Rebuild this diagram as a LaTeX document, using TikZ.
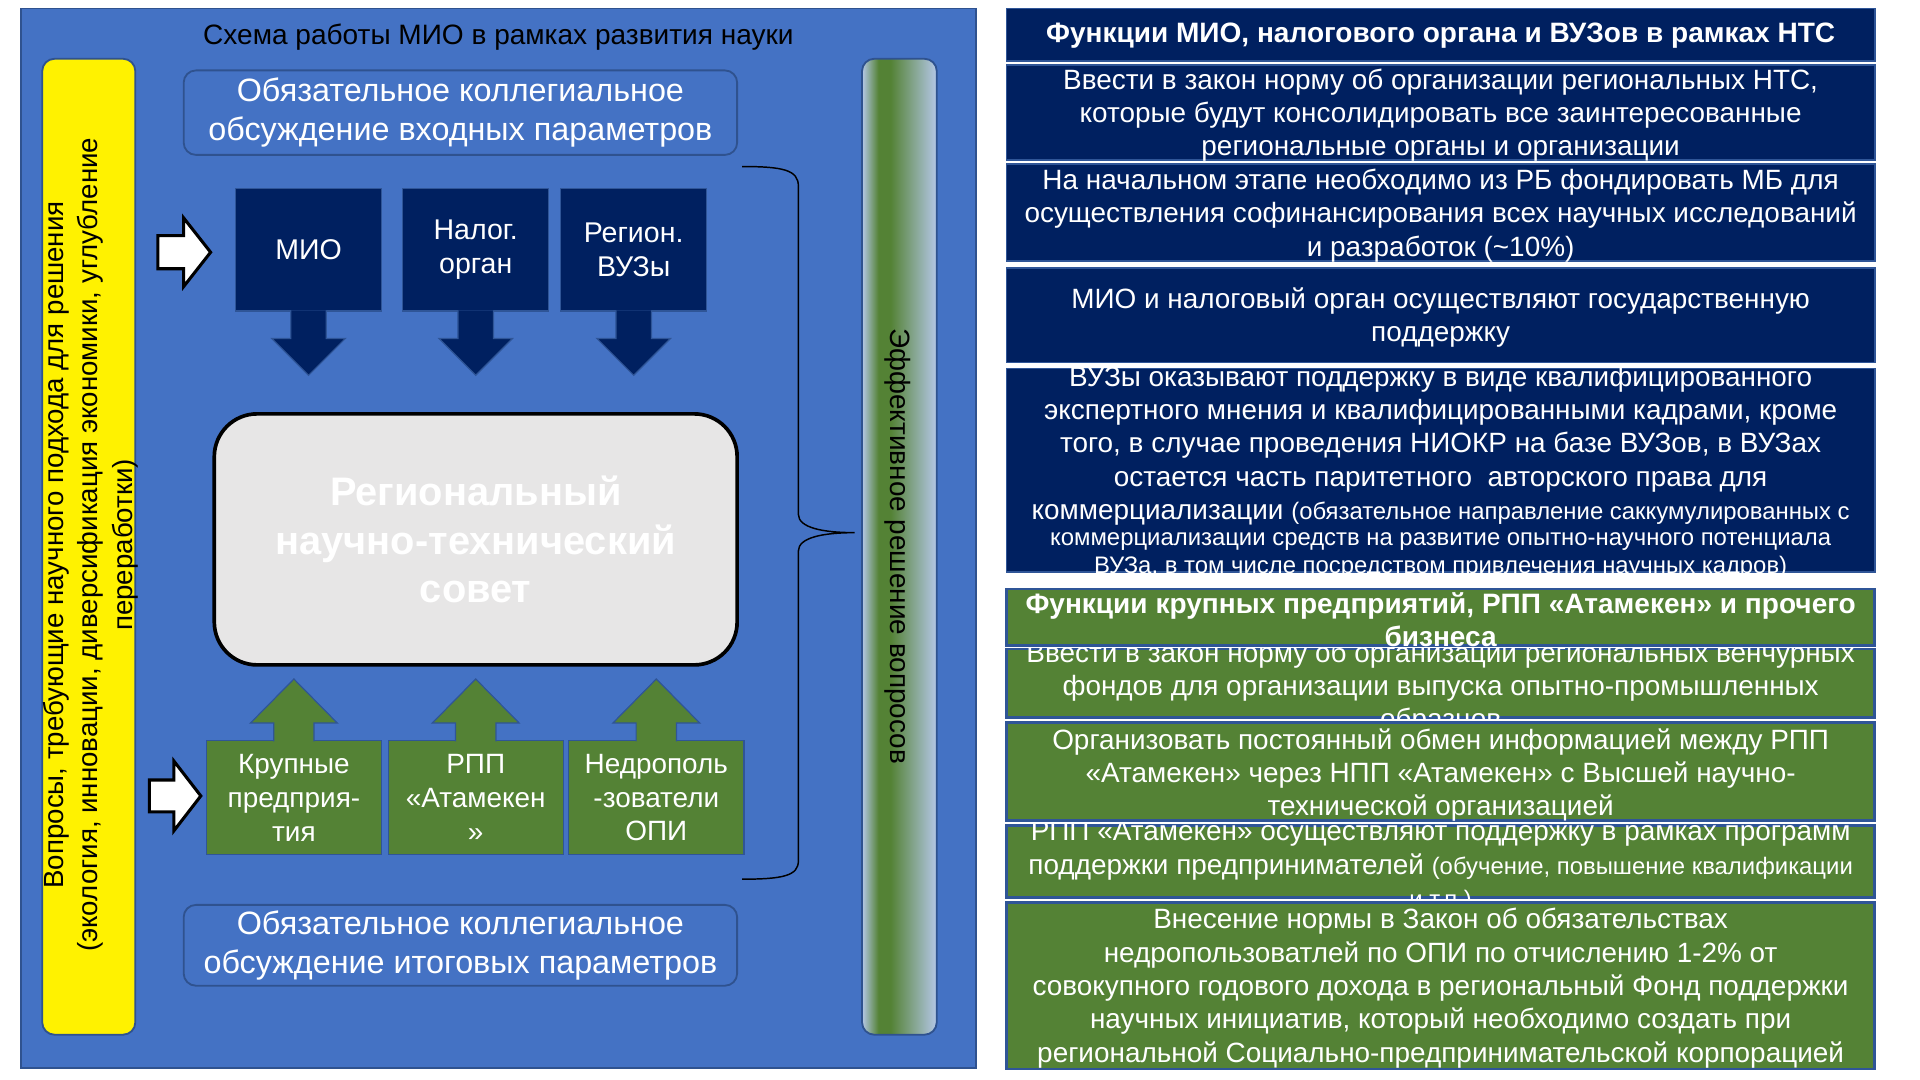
\documentclass[tikz,border=0pt]{standalone}
\usepackage{fontspec}
\setmainfont{Liberation Sans}
\usetikzlibrary{calc}

\definecolor{panelblue}{HTML}{4472C4}
\definecolor{edgeblue}{HTML}{2F528F}
\definecolor{navy}{HTML}{002060}
\definecolor{rowedge}{HTML}{2F5597}
\definecolor{leafgreen}{HTML}{548235}
\definecolor{councilgrey}{HTML}{E7E6E6}
\definecolor{barblue}{HTML}{B4C7E7}

\pgfdeclarehorizontalshading{barshade}{100bp}{color(0bp)=(barblue); color(25bp)=(barblue); color(36bp)=(leafgreen); color(44bp)=(leafgreen); color(75bp)=(barblue); color(100bp)=(barblue)}

\newcommand{\fsz}[2]{\fontsize{#1}{#2}\selectfont}

\tikzset{
  rowbox/.style={draw=rowedge, line width=1.5pt, minimum width=709pt, inner sep=0pt},
  navyrow/.style={rowbox, fill=navy},
  greenrow/.style={rowbox, fill=leafgreen, line width=2.2pt},
  rowtext/.style={text=white, align=center, inner sep=0pt, font=\fsz{22.8}{27.3}},
  actorbox/.style={draw=rowedge, line width=1pt, fill=navy, text=white, minimum width=119pt, minimum height=100pt, inner sep=0pt, align=center, font=\fsz{23.3}{28}},
  bizbox/.style={draw=rowedge, line width=1pt, fill=leafgreen, text=white, minimum width=143pt, minimum height=93pt, inner sep=0pt, align=center, font=\fsz{22.8}{27.5}},
  meetbox/.style={draw=edgeblue, line width=1.5pt, fill=panelblue, rounded corners=10pt, text=white, minimum width=452pt, inner sep=0pt, align=center, font=\fsz{26.4}{32}},
  whitearrow/.style={draw=black, line width=2.5pt, fill=white, line join=miter},
  downarrow/.style={draw=rowedge, line width=1pt, fill=navy},
  uparrow/.style={draw=rowedge, line width=1pt, fill=leafgreen}
}

\begin{document}
\begin{tikzpicture}[x=1pt,y=-1pt]

\useasboundingbox (0,0) rectangle (1568,882);
\fill[white] (0,0) rectangle (1568,882);

% Left panel
\draw[edgeblue, line width=1.5pt, fill=panelblue] (17,7) rectangle (797,872);
\node[font=\fsz{22.9}{26}] (title) at (407,30) {Схема работы МИО в рамках развития науки};

% Yellow bar with questions
\node[draw=edgeblue, line width=1.5pt, fill=yellow, rounded corners=10pt, minimum width=76pt, minimum height=797pt] (issuebar) at (72.5,446.5) {};
\node[rotate=90, align=center, font=\fsz{22.6}{28}] (issuetext) at (74,445) {Вопросы, требующие научного подхода для решения\\(экология, инновации, диверсификация экономики, углубление\\переработки)};

% Solution bar
\node[draw=edgeblue, line width=1.5pt, shading=barshade, rounded corners=10pt, minimum width=61pt, minimum height=797pt] (solbar) at (734.5,446.5) {};
\node[rotate=-90, font=\fsz{22.8}{25}] (soltext) at (733,446) {Эффективное решение вопросов};

% Discussion boxes
\node[meetbox, minimum height=69pt] (inmeet) at (376,92) {Обязательное коллегиальное\\обсуждение входных параметров};
\node[meetbox, minimum height=66pt] (outmeet) at (376,772) {Обязательное коллегиальное\\обсуждение итоговых параметров};

% State actors
\node[actorbox] (mio) at (252,204) {МИО};
\node[actorbox] (tax) at (388.5,204) {Налог.\\орган};
\node[actorbox] (uni) at (517.5,204) {Регион.\\ВУЗы};
\foreach \n in {mio,tax,uni}{
  \filldraw[downarrow] ($(\n.south)+(-14.5,-1)$) -- ++(0,23) -- ++(-15.5,0) -- ($(\n.south)+(0,52)$) -- ($(\n.south)+(30,22)$) -- ++(-15.5,0) -- ($(\n.south)+(14.5,-1)$);
}

% Council
\node[draw=black, line width=3pt, fill=councilgrey, rounded corners=35pt, minimum width=427pt, minimum height=205pt, text=white, align=center, font=\bfseries\fsz{32.5}{40}] (council) at (388.5,440.5) {Региональный\\научно-технический\\совет};

% Business actors
\node[bizbox] (bigco) at (240,651.5) {Крупные\\предприя-\\тия};
\node[bizbox] (rpp) at (388.5,651.5) {РПП\\«Атамекен\\»};
\node[bizbox] (miner) at (536,651.5) {Недрополь\\-зователи\\ОПИ};
\foreach \n in {bigco,rpp,miner}{
  \filldraw[uparrow] ($(\n.north)+(-16.5,1)$) -- ++(0,-15) -- ++(-19,0) -- ($(\n.north)+(0,-50)$) -- ($(\n.north)+(35.5,-14)$) -- ++(-19,0) -- ($(\n.north)+(16.5,1)$);
}

% Input arrows
\coordinate (inA) at (129,206);
\coordinate (inB) at (122,650);
\draw[whitearrow] (inA) ++(0,-13.5) -- ++(21,0) -- ++(0,-14.5) -- ++(22,28) -- ++(-22,28) -- ++(0,-14.5) -- ++(-21,0) -- cycle;
\draw[whitearrow] (inB) ++(0,-13) -- ++(20,0) -- ++(0,-15.5) -- ++(22,28.5) -- ++(-22,28.5) -- ++(0,-15.5) -- ++(-20,0) -- cycle;

% Brace
\draw[line width=1.2pt] (606,136) .. controls (640,136) and (652,139) .. (652,152) -- (652,420) .. controls (652,431) and (672,435) .. (698,435) .. controls (672,435) and (652,439) .. (652,450) -- (652,703) .. controls (652,715) and (640,718) .. (606,718);

% Right column: state functions
\node[navyrow, minimum height=43pt] (r1) at (1176.5,28.5) {};
\node[rowtext, font=\bfseries\fsz{22.9}{27}] (r1t) at (1176.5,29) {Функции МИО, налогового органа и ВУЗов в рамках НТС};
\node[navyrow, minimum height=78pt] (r2) at (1176.5,92) {};
\node[rowtext] (r2t) at (1176.5,94) {Ввести в закон норму об организации региональных НТС,\\которые будут консолидировать все заинтересованные\\региональные органы и организации};
\node[navyrow, minimum height=79pt] (r3) at (1176.5,173.5) {};
\node[rowtext] (r3t) at (1176.5,176) {На начальном этапе необходимо из РБ фондировать МБ для\\осуществления софинансирования всех научных исследований\\и разработок (\textasciitilde10\%)};
\node[navyrow, minimum height=77pt] (r4) at (1176.5,257.5) {};
\node[rowtext] (r4t) at (1176.5,259.5) {МИО и налоговый орган осуществляют государственную\\поддержку};
\node[navyrow, minimum height=166pt] (r5) at (1176.5,384) {};
\begin{scope}
  \clip (r5.north west) rectangle (r5.south east);
  \node[rowtext] (r5t) at (1176.5,364) {ВУЗы оказывают поддержку в виде квалифицированного\\экспертного мнения и квалифицированными кадрами, кроме\\того, в случае проведения НИОКР на базе ВУЗов, в ВУЗах\\остается часть паритетного\ \ авторского права для\\коммерциализации {\fsz{19.5}{23}(обязательное направление саккумулированных с}};
  \node[rowtext, font=\fsz{19.5}{23}] (r5u) at (1176.5,454) {коммерциализации средств на развитие опытно-научного потенциала\\ВУЗа, в том числе посредством привлечения научных кадров)};
\end{scope}

% Right column: business functions
\node[greenrow, minimum height=46pt] (r6) at (1176.5,504) {};
\node[greenrow, minimum height=56pt] (r7) at (1176.5,558) {};
\node[greenrow, minimum height=80pt] (r8) at (1176.5,630) {};
\node[greenrow, minimum height=59pt] (r9) at (1176.5,703.5) {};
\node[greenrow, minimum height=136pt] (r10) at (1176.5,805) {};
\node[rowtext, font=\bfseries\fsz{22.9}{27}] (r6t) at (1176.5,506) {Функции крупных предприятий, РПП «Атамекен» и прочего\\бизнеса};
\begin{scope}
  \clip (r7.north west) rectangle (r7.south east);
  \node[rowtext] (r7t) at (1176.5,562) {Ввести в закон норму об организации региональных венчурных\\фондов для организации выпуска опытно-промышленных\\образцов};
\end{scope}
\node[rowtext] (r8t) at (1176.5,633) {Организовать постоянный обмен информацией между РПП\\«Атамекен» через НПП «Атамекен» с Высшей научно-\\технической организацией};
\begin{scope}
  \clip (r9.north west) rectangle (r9.south east);
  \node[rowtext] (r9t) at (1176.5,708) {РПП «Атамекен» осуществляют поддержку в рамках программ\\поддержки предпринимателей {\fsz{19.5}{27}(обучение, повышение квалификации}\\{\fsz{19.5}{27}и т.п.)}};
\end{scope}
\node[rowtext] (r10t) at (1176.5,807) {Внесение нормы в Закон об обязательствах\\недропользоватлей по ОПИ по отчислению 1-2\% от\\совокупного годового дохода в региональный Фонд поддержки\\научных инициатив, который необходимо создать при\\региональной Социально-предпринимательской корпорацией};

\end{tikzpicture}
\end{document}
